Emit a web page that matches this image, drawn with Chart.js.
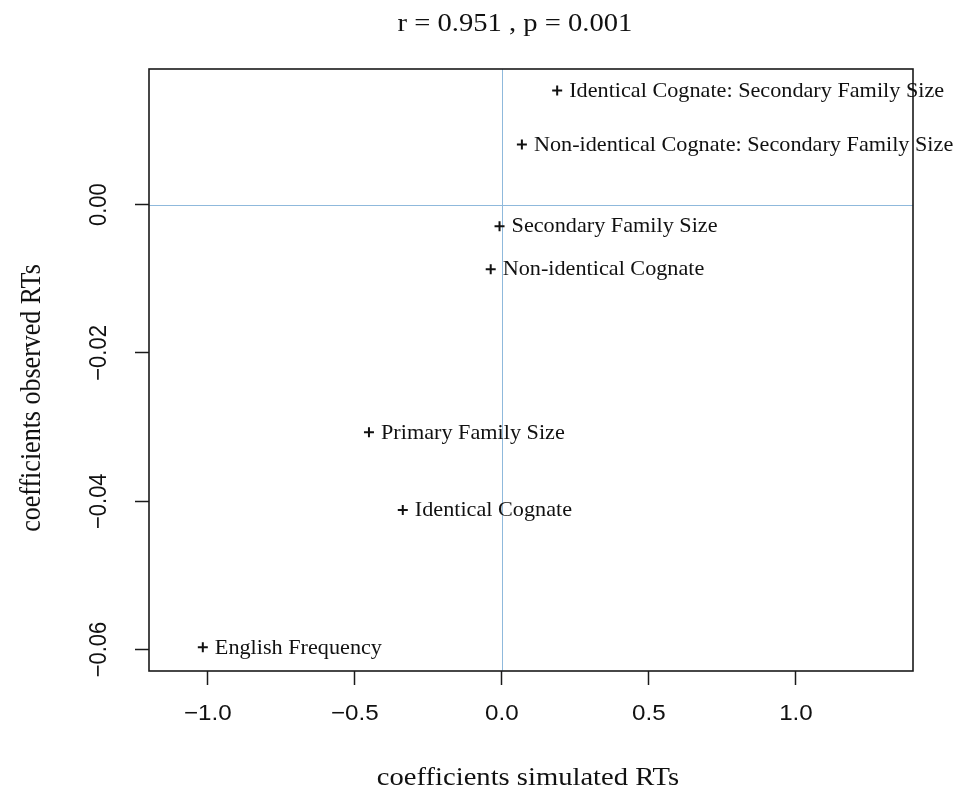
<!DOCTYPE html>
<html>
<head>
<meta charset="utf-8">
<script src="https://cdn.jsdelivr.net/npm/chart.js@4/dist/chart.umd.min.js"></script>
<style>
html,body{margin:0;padding:0;background:#fff;}
canvas{display:block;}
</style>
</head>
<body>
<canvas id="c" width="959" height="799"></canvas>
<script>
const categories = [
  'Identical Cognate: Secondary Family Size',
  'Non-identical Cognate: Secondary Family Size',
  'Secondary Family Size',
  'Non-identical Cognate',
  'Primary Family Size',
  'Identical Cognate',
  'English Frequency'
];
const simulated = [0.188, 0.068, -0.008, -0.038, -0.452, -0.337, -1.017];
const observed = [0.0154, 0.0081, -0.0029, -0.0087, -0.0307, -0.0412, -0.0597];
const xTicks = [-1.0, -0.5, 0.0, 0.5, 1.0];
const xTickLabels = ['\u22121.0', '\u22120.5', '0.0', '0.5', '1.0'];
const yTicks = [-0.06, -0.04, -0.02, 0.0];
const yTickLabels = ['\u22120.06', '\u22120.04', '\u22120.02', '0.00'];
const refX = [0];
const refY = [0];
const titleText = 'r = 0.951 , p = 0.001';
const xTitle = 'coefficients simulated RTs';
const yTitle = 'coefficients observed RTs';

const SX = 1.1; // horizontal stretch of the original picture
const SERIF = '"Liberation Serif", "Times New Roman", serif';
const SANS = '"Liberation Sans", Arial, sans-serif';
const BLUE = '#8fb9dc';
const DARK = '#1a1a1a';

function stretchedText(ctx, text, x, y, font, align, rot) {
  ctx.save();
  ctx.translate(x, y);
  ctx.scale(SX, 1);
  if (rot) ctx.rotate(rot);
  ctx.font = font;
  ctx.fillStyle = '#111';
  ctx.textAlign = align || 'center';
  ctx.textBaseline = 'middle';
  ctx.fillText(text, 0, 0);
  ctx.restore();
}

const textPlugin = {
  id: 'textPlugin',
  beforeDatasetsDraw(chart) {
    const ctx = chart.ctx;
    const a = chart.chartArea;
    const xs = chart.scales.x, ys = chart.scales.y;
    ctx.save();
    ctx.strokeStyle = BLUE;
    ctx.lineWidth = 1;
    refX.forEach(v => {
      const px = Math.round(xs.getPixelForValue(v)) + 0.5;
      ctx.beginPath(); ctx.moveTo(px, a.top); ctx.lineTo(px, a.bottom); ctx.stroke();
    });
    refY.forEach(v => {
      const py = Math.round(ys.getPixelForValue(v)) + 0.5;
      ctx.beginPath(); ctx.moveTo(a.left, py); ctx.lineTo(a.right, py); ctx.stroke();
    });
    ctx.restore();
  },
  afterDraw(chart) {
    const ctx = chart.ctx;
    const a = chart.chartArea;
    const xs = chart.scales.x, ys = chart.scales.y;
    // box
    ctx.save();
    ctx.strokeStyle = DARK;
    ctx.lineWidth = 1.6;
    ctx.strokeRect(a.left, a.top, a.right - a.left, a.bottom - a.top);
    ctx.restore();
    // tick labels
    xTicks.forEach((v, i) => {
      stretchedText(ctx, xTickLabels[i], xs.getPixelForValue(v), 714, '22px ' + SANS, 'center');
    });
    yTicks.forEach((v, i) => {
      stretchedText(ctx, yTickLabels[i], 99, ys.getPixelForValue(v), '22px ' + SANS, 'center', -Math.PI / 2);
    });
    // point labels
    categories.forEach((c, i) => {
      const px = xs.getPixelForValue(simulated[i]);
      const py = ys.getPixelForValue(observed[i]);
      stretchedText(ctx, c, px + 12, py + 1, '20.2px ' + SERIF, 'left');
    });
    // titles
    stretchedText(ctx, titleText, 515, 24, '26px ' + SERIF, 'center');
    stretchedText(ctx, xTitle, 528, 778, '26px ' + SERIF, 'center');
    stretchedText(ctx, yTitle, 32, 398, '26px ' + SERIF, 'center', -Math.PI / 2);
  }
};

new Chart(document.getElementById('c'), {
  type: 'scatter',
  data: {
    datasets: [{
      data: simulated.map((x, i) => ({ x: x, y: observed[i] })),
      pointStyle: 'cross',
      pointRadius: 5,
      pointBorderWidth: 2,
      borderColor: '#111',
      backgroundColor: '#111'
    }]
  },
  options: {
    responsive: false,
    animation: false,
    devicePixelRatio: 1,
    layout: { padding: { top: 69, right: 46, bottom: 0, left: 0 } },
    plugins: { legend: { display: false }, tooltip: { enabled: false }, title: { display: false } },
    scales: {
      x: {
        type: 'linear',
        position: 'bottom',
        min: -1.2,
        max: 1.398,
        afterBuildTicks: s => { s.ticks = xTicks.map(v => ({ value: v })); },
        afterFit: s => { s.height = 128; },
        border: { display: false },
        grid: {
          drawOnChartArea: false,
          drawTicks: true,
          tickLength: 14,
          tickColor: DARK,
          tickWidth: 1.5
        },
        ticks: { display: false }
      },
      y: {
        type: 'linear',
        position: 'left',
        min: -0.0629,
        max: 0.0183,
        afterBuildTicks: s => { s.ticks = yTicks.map(v => ({ value: v })); },
        afterFit: s => { s.width = 149; },
        border: { display: false },
        grid: {
          drawOnChartArea: false,
          drawTicks: true,
          tickLength: 14,
          tickColor: DARK,
          tickWidth: 1.5
        },
        ticks: { display: false }
      }
    }
  },
  plugins: [textPlugin]
});
</script>
</body>
</html>
